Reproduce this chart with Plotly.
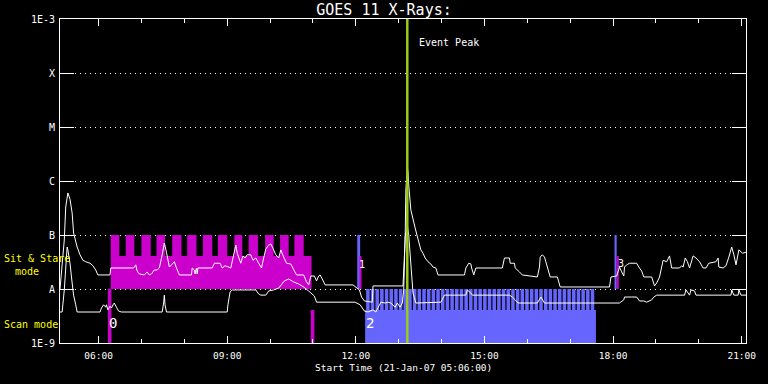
import plotly.graph_objects as go
import pandas as pd

DAY = "2007-01-21 "

# GOES 11 long channel (1-8 A), W/m^2
long_time = ["05:06","05:09","05:12","05:14","05:17","05:20","05:23","05:25","05:30","05:34",
             "05:38","05:42","05:48","05:52","05:56","05:59","06:16","06:17","06:49","06:52",
             "06:54","06:57","07:04","07:08","07:11","07:14","07:18","07:22","07:25","07:29",
             "07:32","07:35","07:39","07:42","07:46","07:49","07:53","08:10","08:11","08:14",
             "08:15","08:17","08:18","08:19","08:39","08:42","08:50","08:53","08:57","09:05",
             "09:10","09:12","09:14","09:16","09:19","09:22","09:25","09:28","09:33","09:36",
             "09:40","09:44","09:48","09:51","09:54","09:58","10:01","10:04","10:08","10:12",
             "10:15","10:19","10:23","10:29","10:33","10:37","10:47","10:51","10:54","10:57",
             "11:02","11:05","11:08","11:10","11:13","11:17","11:56","12:01","12:05","12:08",
             "12:12","12:23","12:24","13:06","13:09","13:10","13:12","13:13","13:14","13:17",
             "13:20","13:23","13:27","13:31","13:34","13:37","13:41","13:45","13:48","13:52",
             "13:55","14:32","14:34","14:38","14:41","14:42","14:45","14:48","15:25","15:28",
             "15:35","15:36","15:42","15:43","15:49","15:53","16:14","16:17","16:18","16:21",
             "16:24","16:28","16:32","16:42","16:44","16:46","17:55","17:57","18:05","18:08",
             "18:09","18:12","18:15","18:16","18:19","18:23","18:33","18:36","18:40","18:43",
             "18:54","18:58","19:01","19:05","19:10","19:15","19:19","19:22","19:33","19:36",
             "19:38","19:41","19:44","19:47","19:52","19:56","20:01","20:06","20:10","20:14",
             "20:24","20:27","20:28","20:34","20:38","20:42","20:46","20:49","20:52","20:56",
             "21:01","21:06"]
long_flux = [1.0e-8,2.45e-8,8.1e-8,3.3e-7,6.0e-7,4.6e-7,2.55e-7,1.09e-7,6.0e-8,4.3e-8,
             3.4e-8,3.2e-8,3.0e-8,2.7e-8,2.25e-8,1.82e-8,1.82e-8,2.45e-8,2.45e-8,2.8e-8,
             2.15e-8,1.9e-8,1.82e-8,2.07e-8,1.82e-8,1.9e-8,2.25e-8,2.25e-8,2.45e-8,4.3e-8,
             7.1e-8,4.8e-8,2.55e-8,2.8e-8,3.2e-8,2.45e-8,1.82e-8,1.82e-8,2.45e-8,2.25e-8,
             1.9e-8,2.45e-8,1.9e-8,2.45e-8,2.45e-8,3.0e-8,3.0e-8,2.45e-8,2.7e-8,2.45e-8,
             5.3e-8,6.5e-8,4.6e-8,3.75e-8,3.0e-8,4.1e-8,3.75e-8,4.3e-8,4.3e-8,3.4e-8,
             3.75e-8,3.0e-8,2.45e-8,3.75e-8,5.5e-8,6.5e-8,6.8e-8,5.7e-8,4.3e-8,3.75e-8,
             5.3e-8,3.9e-8,3.0e-8,2.9e-8,2.25e-8,1.82e-8,1.82e-8,1.35e-8,1.19e-8,1.74e-8,
             1.74e-8,1.41e-8,1.74e-8,1.82e-8,1.53e-8,1.19e-8,1.19e-8,1.04e-8,9.6e-9,7.1e-9,
             6.0e-9,5.7e-9,1.14e-8,1.14e-8,8.1e-8,6.8e-7,1.82e-6,1.47e-6,8.4e-7,2.9e-7,
             1.9e-7,1.35e-7,8.4e-8,5.3e-8,4.6e-8,3.75e-8,3.2e-8,2.9e-8,2.55e-8,2.45e-8,
             1.82e-8,1.82e-8,2.45e-8,3.0e-8,2.9e-8,2.45e-8,1.82e-8,2.45e-8,2.45e-8,3.75e-8,
             3.75e-8,3.0e-8,3.0e-8,2.45e-8,2.07e-8,1.82e-8,1.67e-8,2.55e-8,3.9e-8,4.3e-8,
             3.9e-8,2.55e-8,1.67e-8,1.67e-8,1.41e-8,1.09e-8,1.09e-8,1.67e-8,1.74e-8,2.25e-8,
             2.55e-8,2.07e-8,1.74e-8,2.55e-8,2.8e-8,3.0e-8,3.0e-8,2.55e-8,2.15e-8,1.67e-8,
             1.67e-8,1.14e-8,1.29e-8,1.67e-8,3.4e-8,3.2e-8,4.1e-8,2.45e-8,2.45e-8,2.7e-8,
             2.55e-8,3.75e-8,3.2e-8,2.45e-8,4.1e-8,3.75e-8,3.2e-8,2.45e-8,2.45e-8,3.0e-8,
             3.2e-8,3.75e-8,2.55e-8,2.45e-8,2.7e-8,3.9e-8,6.0e-8,4.3e-8,2.8e-8,5.3e-8,
             4.6e-8,4.8e-8]

# GOES 11 short channel (0.5-4 A), W/m^2
short_time = ["05:06","05:09","05:12","05:14","05:16","05:17","05:20","05:23","05:25","05:28",
              "05:30","06:02","06:04","06:07","06:10","06:11","06:13","06:16","06:18","06:21",
              "06:22","06:25","06:28","06:32","07:29","07:31","07:32","07:33","07:35","09:00",
              "09:01","09:04","09:07","09:40","09:44","09:47","09:54","09:58","10:05","10:12",
              "10:16","10:20","10:26","10:33","10:40","10:47","10:54","10:58","11:02","11:05",
              "11:59","12:06","12:09","12:12","12:17","12:24","12:28","12:31","12:35","12:41",
              "12:45","12:49","12:55","12:58","13:02","13:05","13:07","13:09","13:12","13:14",
              "13:17","13:20","13:24","13:59","14:02","14:04","14:34","14:36","14:41","14:43",
              "15:35","15:39","15:43","15:47","16:14","16:17","16:19","16:24","18:09","18:15",
              "18:16","18:26","18:33","18:37","18:43","18:47","18:54","18:57","19:01","19:40",
              "19:42","19:47","19:49","19:54","19:56","20:45","20:46","20:49","20:55","20:56",
              "20:59","21:06"]
short_flux = [3.75e-9,3.75e-9,9.6e-9,3.2e-8,6.0e-8,5.3e-8,3.0e-8,1.29e-8,7.7e-9,5.1e-9,
              3.75e-9,3.75e-9,4.45e-9,5.1e-9,4.6e-9,5.1e-9,4.1e-9,4.8e-9,4.45e-9,5.3e-9,
              5.5e-9,4.6e-9,3.9e-9,3.75e-9,3.75e-9,5.5e-9,7.7e-9,5.1e-9,3.75e-9,3.75e-9,
              5.1e-9,8.8e-9,9.6e-9,9.6e-9,8.1e-9,7.7e-9,7.7e-9,9.2e-9,9.6e-9,1.04e-8,
              1.24e-8,1.41e-8,1.53e-8,1.35e-8,1.24e-8,1.09e-8,9.2e-9,8.4e-9,7.4e-9,5.7e-9,
              5.7e-9,5.1e-9,4.45e-9,3.9e-9,3.75e-9,4.1e-9,3.75e-9,4.6e-9,5.7e-9,5.5e-9,
              5.7e-9,5.5e-9,4.6e-9,5.5e-9,4.6e-9,5.5e-9,9.6e-9,9.2e-8,1.53e-7,1.0e-7,
              2.25e-8,8.4e-9,5.5e-9,5.7e-9,6.8e-9,7.7e-9,7.7e-9,9.6e-9,8.4e-9,7.7e-9,
              7.7e-9,7.1e-9,6.3e-9,5.5e-9,5.5e-9,6.5e-9,7.1e-9,5.5e-9,5.5e-9,6.3e-9,
              7.1e-9,7.1e-9,7.1e-9,6.0e-9,6.0e-9,5.7e-9,6.3e-9,7.1e-9,7.7e-9,7.7e-9,
              9.6e-9,7.7e-9,9.6e-9,9.2e-9,7.7e-9,7.7e-9,9.6e-9,7.7e-9,7.7e-9,9.6e-9,
              7.7e-9,7.7e-9]

# Observing-mode levels on the flux scale
SCAN_LO, SCAN_HI, STARE_LO, STARE_MID, STARE_HI = 1e-9, 4.1e-9, 1e-8, 4.1e-8, 1e-7

# Sit & stare mode: base block plus pointing teeth
stare_block = ("06:17", "10:58")
stare_teeth_start = ["06:17","06:38","07:00","07:21","07:43","08:04","08:26","08:47","09:10",
                     "09:30","09:53","10:14","10:34"]
stare_teeth_end = ["06:29","06:50","07:13","07:33","07:56","08:17","08:39","09:00","09:21",
                   "09:43","10:05","10:26","10:47"]

# Scan mode: base block plus individual scan rasters
scan_block = ("12:13", "17:36")
scan_bar_start = ["12:14:24","12:20:54","12:27:27","12:34:00","12:40:33","12:47:06","12:53:39",
                  "13:00:12","13:06:45","13:13:18","13:19:51","13:26:24","13:32:57","13:39:30",
                  "13:46:03","13:52:36","13:59:09","14:05:42","14:12:15","14:18:48","14:25:21",
                  "14:31:54","14:38:27","14:45:00","14:51:33","14:58:06","15:04:39","15:11:12",
                  "15:17:45","15:24:18","15:30:51","15:37:24","15:43:57","15:50:30","15:57:03",
                  "16:03:36","16:10:09","16:16:42","16:23:15","16:29:48","16:36:21","16:42:54",
                  "16:49:27","16:56:00","17:02:33","17:09:06","17:15:39","17:22:12","17:28:45"]
SCAN_BAR_MIN = 4.9

# Mode-change marks
blue_mark_start = ["12:02", "18:02"]
blue_mark_end = ["12:06", "18:05"]
blue_mark_lo = [STARE_LO, STARE_LO]
blue_mark_hi = [STARE_HI, STARE_HI]
mag_mark_start = ["06:13", "10:57", "12:05", "18:05"]
mag_mark_end = ["06:18", "11:02", "12:08", "18:08"]
mag_mark_lo = [SCAN_LO, SCAN_LO, STARE_LO, STARE_LO]
mag_mark_hi = [STARE_LO, SCAN_HI, STARE_MID, STARE_MID]

event_peak = "13:12"

y_tickvals = [1e-9, 1e-8, 1e-7, 1e-6, 1e-5, 1e-4, 1e-3]
y_ticktext = ["1E-9", "A", "B", "C", "M", "X", "1E-3"]

MAGENTA = "#cc00cc"
BLUE = "#6666ff"
GREEN = "#9acd1a"
FONT = "DejaVu Sans Mono"


def t(s):
    return pd.Timestamp(DAY + s)


def boxes(starts, ends, los, his):
    xs, ys = [], []
    for s, e, lo, hi in zip(starts, ends, los, his):
        xs += [s, e, e, s, s, None]
        ys += [lo, lo, hi, hi, lo, None]
    return xs, ys


def poly_trace(xs, ys, color):
    return go.Scatter(x=xs, y=ys, mode="lines", fill="toself", fillcolor=color,
                      line=dict(width=0, color=color), hoverinfo="skip", showlegend=False)


fig = go.Figure()

# sit & stare (magenta)
sx, sy = boxes([t(stare_block[0])], [t(stare_block[1])], [STARE_LO], [STARE_MID])
tx, ty = boxes([t(s) for s in stare_teeth_start], [t(e) for e in stare_teeth_end],
               [STARE_LO] * len(stare_teeth_start), [STARE_HI] * len(stare_teeth_start))
fig.add_trace(poly_trace(sx + tx, sy + ty, MAGENTA))

# scan (blue)
bx, by = boxes([t(scan_block[0])], [t(scan_block[1])], [SCAN_LO], [SCAN_HI])
rs = [t(s) for s in scan_bar_start]
re_ = [r + pd.Timedelta(minutes=SCAN_BAR_MIN) for r in rs]
rx, ry = boxes(rs, re_, [SCAN_HI] * len(rs), [STARE_LO] * len(rs))
fig.add_trace(poly_trace(bx + rx, by + ry, BLUE))

# mode change marks
mx, my = boxes([t(s) for s in blue_mark_start], [t(e) for e in blue_mark_end], blue_mark_lo, blue_mark_hi)
fig.add_trace(poly_trace(mx, my, BLUE))
mx, my = boxes([t(s) for s in mag_mark_start], [t(e) for e in mag_mark_end], mag_mark_lo, mag_mark_hi)
fig.add_trace(poly_trace(mx, my, MAGENTA))

# GOES curves
fig.add_trace(go.Scatter(x=[t(s) for s in long_time], y=long_flux, mode="lines",
                         line=dict(color="white", width=1), showlegend=False, name="1-8 A"))
fig.add_trace(go.Scatter(x=[t(s) for s in short_time], y=short_flux, mode="lines",
                         line=dict(color="white", width=1), showlegend=False, name="0.5-4 A"))

# event peak line
fig.add_trace(go.Scatter(x=[t(event_peak), t(event_peak)], y=[1e-9, 1e-3], mode="lines",
                         line=dict(color=GREEN, width=2.5), showlegend=False, hoverinfo="skip"))

annotations = [
    dict(text="Event Peak", x=t("13:25"), xref="x", xanchor="left", y=0.926, yref="paper",
         yanchor="middle", showarrow=False, font=dict(color="white", size=10, family=FONT)),
    dict(text="0", x=t("06:20"), xref="x", y=0.031, yref="paper", showarrow=False,
         font=dict(color="white", size=14, family=FONT)),
    dict(text="2", x=t("12:20"), xref="x", y=0.031, yref="paper", showarrow=False,
         font=dict(color="white", size=14, family=FONT)),
    dict(text="1", x=t("12:09"), xref="x", y=0.219, yref="paper", showarrow=False,
         font=dict(color="white", size=10, family=FONT)),
    dict(text="3", x=t("18:11"), xref="x", y=0.222, yref="paper", showarrow=False,
         font=dict(color="white", size=10, family=FONT)),
    dict(text="Sit & Stare", x=-0.084, xref="paper", xanchor="left", y=0.262, yref="paper",
         yanchor="middle", showarrow=False, font=dict(color="#ffff00", size=10, family=FONT)),
    dict(text="mode", x=-0.068, xref="paper", xanchor="left", y=0.222, yref="paper",
         yanchor="middle", showarrow=False, font=dict(color="#ffff00", size=10, family=FONT)),
    dict(text="Scan mode", x=-0.084, xref="paper", xanchor="left", y=0.0586, yref="paper",
         yanchor="middle", showarrow=False, font=dict(color="#ffff00", size=10, family=FONT)),
    dict(text="Start Time (21-Jan-07 05:06:00)", x=0.5, xref="paper", y=-0.077, yref="paper",
         yanchor="middle", showarrow=False, font=dict(color="white", size=9.5, family=FONT)),
]

fig.update_layout(
    width=768, height=384,
    paper_bgcolor="black", plot_bgcolor="black",
    margin=dict(l=60, r=18, t=19, b=41),
    title=dict(text="GOES 11 X-Rays:", x=0.5, xref="container", xanchor="center",
               y=0.974, yref="container", yanchor="middle",
               font=dict(color="white", size=15, family=FONT)),
    showlegend=False,
    annotations=annotations,
    font=dict(family=FONT, color="white", size=10),
)

fig.update_xaxes(
    type="date", range=[t("05:06"), t("21:06")],
    tick0=t("06:00"), dtick=3 * 3600000, tickformat="%H:%M",
    ticks="inside", ticklen=7, tickcolor="white", tickwidth=1,
    minor=dict(dtick=3600000, tick0=t("06:00"), ticks="inside", ticklen=4, tickcolor="white", showgrid=False),
    showline=True, linecolor="white", linewidth=1, mirror="allticks",
    showgrid=False, zeroline=False,
    tickfont=dict(color="white", size=9.5, family=FONT), ticklabelstandoff=4,
)
fig.update_yaxes(
    type="log", range=[-9, -3],
    tickvals=y_tickvals, ticktext=y_ticktext,
    ticks="inside", ticklen=14, tickcolor="white", tickwidth=1,
    showline=True, linecolor="white", linewidth=1, mirror="allticks",
    showgrid=True, gridcolor="white", gridwidth=1, griddash="1px,4px",
    zeroline=False,
    tickfont=dict(color="white", size=10, family=FONT), ticklabelstandoff=2,
)

fig.write_html("out.html", config={"displayModeBar": False},
               post_script="document.body.style.margin='0';document.body.style.background='black';"
                           "document.documentElement.style.background='black';")
